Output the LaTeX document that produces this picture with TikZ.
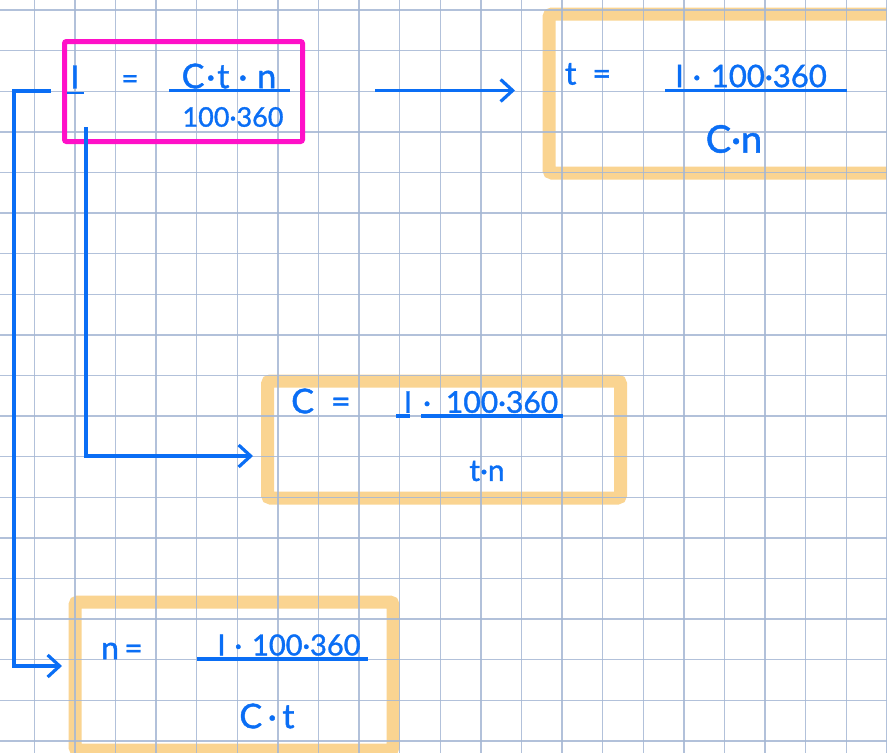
\documentclass[tikz,border=0pt]{standalone}
\usepackage{fontspec}
\setmainfont{Lato}
\newfontfamily\hand{Lato}[FakeBold=1.2]
\usetikzlibrary{arrows.meta}
\definecolor{ink}{RGB}{10,110,245}
\definecolor{mag}{RGB}{255,16,200}
\definecolor{org}{RGB}{250,212,145}
\definecolor{gridc}{RGB}{165,183,212}
\newcommand{\fs}[1]{\hand\fontsize{#1}{#1}\selectfont}
\begin{document}
\begin{tikzpicture}[x=1pt,y=-1pt,
  obox/.style={draw=org, line width=13pt, rounded corners=3pt, inner sep=0pt},
  mbox/.style={draw=mag, line width=5pt, rounded corners=2pt, inner sep=0pt},
  hw/.style={text=ink, inner sep=0pt, anchor=center},
  wire/.style={draw=ink, line width=3.2pt},
  arr/.style={wire, -{Straight Barb[length=12pt,width=22pt]}},
  gridline/.style={draw=gridc, line width=1.4pt, opacity=0.85}]
\useasboundingbox (0,0) rectangle (887,753);
\clip (0,0) rectangle (887,753);
\fill[white] (0,0) rectangle (887,753);
% orange boxes
\node[obox, minimum width=344pt, minimum height=159pt] (tbox) at (721,93.5) {};
\node[obox, minimum width=353pt, minimum height=117pt] (cbox) at (444,439.5) {};
\node[obox, minimum width=318pt, minimum height=148pt] (nbox) at (234,676) {};
% grid
\foreach \k in {0,...,21} {\draw[gridline] (34.3+40.6*\k,0) -- (34.3+40.6*\k,753);}
\foreach \k in {0,...,18} {\draw[gridline] (0,10+40.6*\k) -- (887,10+40.6*\k);}
% magenta box
\node[mbox, minimum width=238pt, minimum height=100pt] (ibox) at (183.5,91.5) {};
% formula I
\node[hw, font=\fs{32}] (mI) at (75,77) {I};
\coordinate (mIa) at (67,93);
\coordinate (mIb) at (84,93);
\draw[wire, line width=2.6pt] (mIa) -- (mIb);
\node[hw, font=\fs{30}] (meq) at (130,82) {=};
\node[hw, font=\fs{34}] (mnum) at (229,76) {C\hspace{2pt}·\hspace{2pt}t\hspace{9pt}·\hspace{10pt}n};
\coordinate (mla) at (169,90.5);
\coordinate (mlb) at (290,90.5);
\draw[wire] (mla) -- (mlb);
\node[hw, font=\fs{27}] (mden) at (233,117) {100·360};
% formula t
\node[hw, font=\fs{32}] (teq) at (588,74) {t\enspace=};
\node[hw, font=\fs{31}] (tnum) at (751,76) {I\hspace{9pt}·\hspace{10pt}100·360};
\coordinate (tla) at (665,90.5);
\coordinate (tlb) at (847,90.5);
\draw[wire] (tla) -- (tlb);
\node[hw, font=\fs{38}] (tden) at (734,139) {C·n};
% formula C
\node[hw, font=\fs{34}] (ceq) at (321,401) {C\enspace=};
\node[hw, font=\fs{30}] (cnum) at (481,402) {I\hspace{11pt}·\hspace{15pt}100·360};
\coordinate (cla) at (396,416);
\coordinate (clb) at (410,416);
\coordinate (clc) at (421,416);
\coordinate (cld) at (563,416);
\draw[wire] (cla) -- (clb);
\draw[wire] (clc) -- (cld);
\node[hw, font=\fs{30}] (cden) at (487,471) {t·n};
% formula n
\node[hw, font=\fs{32}] (neq) at (122,651) {n\,=};
\node[hw, font=\fs{29}] (nnum) at (289,645) {I\hspace{9pt}·\hspace{10pt}100·360};
\coordinate (nla) at (197,659);
\coordinate (nlb) at (368,659);
\draw[wire] (nla) -- (nlb);
\node[hw, font=\fs{34}] (nden) at (267,716) {C\,·\,t};
% connectors
\coordinate (a1s) at (51,91);
\coordinate (a1e) at (62,666);
\draw[arr] (a1s) -- ++(-37,0) |- (a1e);
\coordinate (a2s) at (86,127);
\coordinate (a2e) at (253,456);
\draw[arr] (a2s) |- (a2e);
\coordinate (a3s) at (375,90.5);
\coordinate (a3e) at (515,90.5);
\draw[arr] (a3s) -- (a3e);
\end{tikzpicture}
\end{document}
